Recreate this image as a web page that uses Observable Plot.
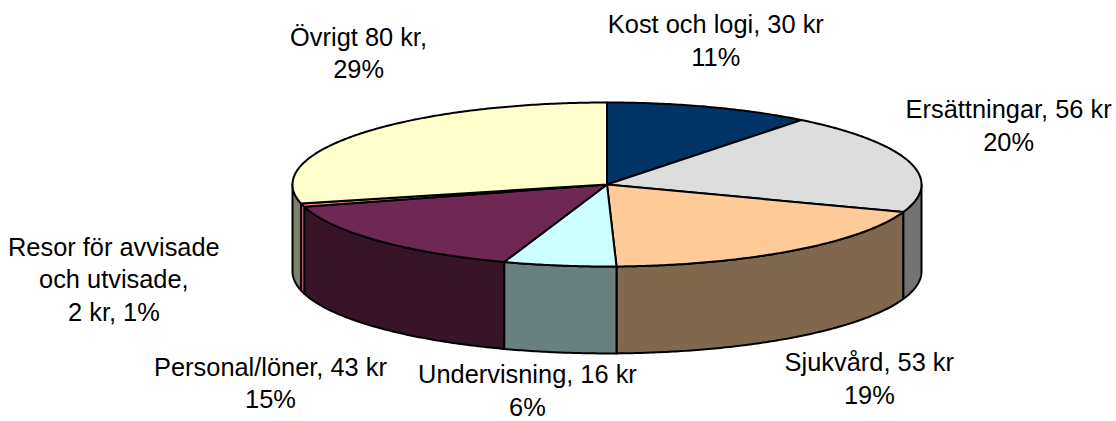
<!DOCTYPE html>
<html><head><meta charset="utf-8">
<style>html,body{margin:0;padding:0;background:#fff}svg{display:block}</style>
<script src="https://cdn.jsdelivr.net/npm/d3@7"></script>
<script src="https://cdn.jsdelivr.net/npm/@observablehq/plot@0.6"></script>
</head><body><script>
const categories = ["Kost och logi","Ersättningar","Sjukvård","Undervisning","Personal/löner","Resor för avvisade och utvisade","Övrigt"];
const amounts = [29.7,55.6,53.4,16.2,42.9,1.9,80.4];
const labels = ["Kost och logi, 30 kr\n11%","Ersättningar, 56 kr\n20%","Sjukvård, 53 kr\n19%","Undervisning, 16 kr\n6%","Personal/löner, 43 kr\n15%","Resor för avvisade\noch utvisade,\n2 kr, 1%","Övrigt 80 kr,\n29%"];
const topColors = ["#003366","#DDDDDD","#FFCC99","#CCFFFF","#6E2853","#FF8080","#FFFFCC"];
const sideColors = ["#001A33","#737373","#80684F","#698080","#381428","#B05858","#80806A"];
const labelX = [0.346,1.277,0.834,-0.253,-1.07,-1.568,-0.79];
const labelY = [1.772,0.735,-2.35,-2.498,-2.405,-1.137,1.619];
const depth = 1.06;

const total = d3.sum(amounts);
const cum = d3.cumsum(amounts);
const ang = v => v / total * 2 * Math.PI;
const pt = (a, drop = 0) => ({x: Math.sin(a), y: Math.cos(a) - drop});
const arc = (a0, a1, drop = 0) => {
  const n = Math.max(2, Math.ceil(Math.abs(a1 - a0) / 0.01));
  return d3.range(n + 1).map(i => pt(a0 + (a1 - a0) * i / n, drop));
};
const topPolys = [], sidePolys = [];
const F0 = Math.PI / 2, F1 = 3 * Math.PI / 2;
categories.forEach((c, i) => {
  const a0 = ang(i ? cum[i - 1] : 0), a1 = ang(cum[i]);
  const top = [{x: 0, y: 0}, ...arc(a0, a1), {x: 0, y: 0}];
  top.forEach(p => topPolys.push({...p, id: c, color: topColors[i]}));
  const s0 = Math.max(a0, F0), s1 = Math.min(a1, F1);
  if (s1 > s0) {
    const side = [...arc(s0, s1), ...arc(s0, s1, depth).reverse()];
    side.push(side[0]);
    side.forEach(p => sidePolys.push({...p, id: c, color: sideColors[i]}));
  }
});
const labelRows = labels.map((t, i) => ({t, x: labelX[i], y: labelY[i]}));

const chart = Plot.plot({
  width: 1116, height: 421,
  margin: 0,
  style: {background: "#fff", fontFamily: "'Liberation Sans', Arial, sans-serif"},
  x: {type: "linear", domain: [-1, 1], range: [292, 921], axis: null},
  y: {type: "linear", domain: [1, -1], range: [102, 266], axis: null},
  color: {type: "identity"},
  marks: [
    Plot.line(sidePolys, {x: "x", y: "y", z: "id", fill: "color", stroke: "#000", strokeWidth: 2}),
    Plot.line(topPolys, {x: "x", y: "y", z: "id", fill: "color", stroke: "#000", strokeWidth: 2}),
    Plot.text(labelRows, {x: "x", y: "y", text: "t", fontSize: 25.4, lineHeight: 1.28, fill: "#000", textAnchor: "middle", lineAnchor: "middle"})
  ]
});
document.body.appendChild(chart);
</script></body></html>
